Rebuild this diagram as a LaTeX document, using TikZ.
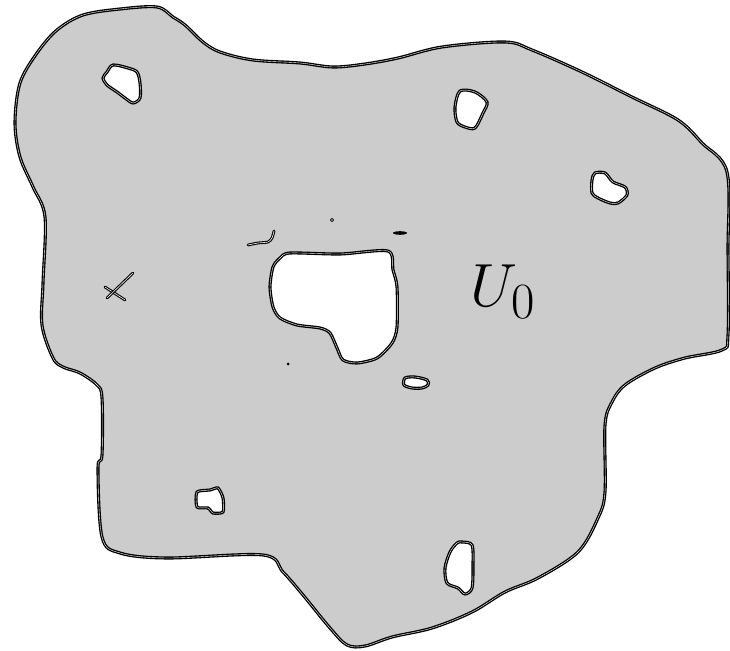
\documentclass[tikz,border=0pt]{standalone}
\usetikzlibrary{calc}
\definecolor{regiongray}{HTML}{CCCCCC}
\tikzset{
  outline/.style={draw=black, line width=1.35pt, double=white, double distance=0.4pt},
  thinmark/.style={draw=black, line width=1.1pt, double=white, double distance=0.6pt, line cap=round},
  region/.style={fill=regiongray, even odd rule},
}
\begin{document}
\begin{tikzpicture}[x=1pt,y=-1pt]
\useasboundingbox (0,0) rectangle (730,650);
% region with holes
\path[region]
  plot[smooth cycle, tension=0.55] coordinates {
    (83,15) (120,9) (157,7) (173,17) (185,25) (203,42) (220,52) (253,60) (300,63) (333,67) (365,64)
    (398,58) (442,47) (505,42) (532,50) (582,72) (632,97) (678,120) (702,143) (727,172)
    (728,250) (728,335) (722,350) (685,358) (655,368) (625,385) (612,402) (605,425) (605,492)
    (598,518) (578,552) (538,578) (505,592) (472,612) (432,628) (392,637) (365,646)
    (347,645) (330,628) (303,595) (283,572) (263,555) (167,558) (120,553) (102,537)
    (98,468) (102,455) (102,398) (97,385) (80,373) (63,367) (53,358) (42,325)
    (43,283) (45,217) (33,187) (20,157) (15,123) (20,83) (37,53) (57,30)}
  plot[smooth cycle, tension=0.5] coordinates {
    (113,65) (128,68) (137,72) (140,83) (140,98) (133,103) (125,98) (117,92) (107,85) (103,78) (107,72)}
  plot[smooth cycle, tension=0.5] coordinates {
    (460,91) (475,92) (487,102) (483,113) (475,128) (465,127) (457,122) (455,107)}
  plot[smooth cycle, tension=0.5] coordinates {
    (595,173) (605,173) (613,182) (625,187) (627,195) (618,203) (610,203) (598,198) (592,193) (592,180)}
  plot[smooth cycle, tension=0.5] coordinates {
    (405,378) (415,377) (427,380) (428,385) (422,388) (412,388) (404,385)}
  plot[smooth cycle, tension=0.5] coordinates {
    (462,542) (472,545) (473,565) (472,588) (465,594) (458,588) (447,583) (445,568) (450,552) (457,543)}
  plot[smooth cycle, tension=0.4] coordinates {
    (197,492) (210,490) (218,488) (223,498) (223,512) (213,513) (208,508) (197,507)}
  plot[smooth cycle, tension=0.45] coordinates {
    (290,253) (340,254) (388,251) (393,270) (397,287) (397,327) (392,343) (377,358) (357,363)
    (343,360) (337,348) (330,333) (320,328) (297,325) (280,318) (273,307) (270,287) (273,267) (280,258)};
% outlines
\draw[outline]
  plot[smooth cycle, tension=0.55] coordinates {
    (83,15) (120,9) (157,7) (173,17) (185,25) (203,42) (220,52) (253,60) (300,63) (333,67) (365,64)
    (398,58) (442,47) (505,42) (532,50) (582,72) (632,97) (678,120) (702,143) (727,172)
    (728,250) (728,335) (722,350) (685,358) (655,368) (625,385) (612,402) (605,425) (605,492)
    (598,518) (578,552) (538,578) (505,592) (472,612) (432,628) (392,637) (365,646)
    (347,645) (330,628) (303,595) (283,572) (263,555) (167,558) (120,553) (102,537)
    (98,468) (102,455) (102,398) (97,385) (80,373) (63,367) (53,358) (42,325)
    (43,283) (45,217) (33,187) (20,157) (15,123) (20,83) (37,53) (57,30)};
\draw[outline]
  plot[smooth cycle, tension=0.5] coordinates {
    (113,65) (128,68) (137,72) (140,83) (140,98) (133,103) (125,98) (117,92) (107,85) (103,78) (107,72)};
\draw[outline]
  plot[smooth cycle, tension=0.5] coordinates {
    (460,91) (475,92) (487,102) (483,113) (475,128) (465,127) (457,122) (455,107)};
\draw[outline]
  plot[smooth cycle, tension=0.5] coordinates {
    (595,173) (605,173) (613,182) (625,187) (627,195) (618,203) (610,203) (598,198) (592,193) (592,180)};
\draw[outline]
  plot[smooth cycle, tension=0.5] coordinates {
    (405,378) (415,377) (427,380) (428,385) (422,388) (412,388) (404,385)};
\draw[outline]
  plot[smooth cycle, tension=0.5] coordinates {
    (462,542) (472,545) (473,565) (472,588) (465,594) (458,588) (447,583) (445,568) (450,552) (457,543)};
\draw[outline]
  plot[smooth cycle, tension=0.4] coordinates {
    (197,492) (210,490) (218,488) (223,498) (223,512) (213,513) (208,508) (197,507)};
\draw[outline]
  plot[smooth cycle, tension=0.45] coordinates {
    (290,253) (340,254) (388,251) (393,270) (397,287) (397,327) (392,343) (377,358) (357,363)
    (343,360) (337,348) (330,333) (320,328) (297,325) (280,318) (273,307) (270,287) (273,267) (280,258)};
% small marks
\draw[thinmark]
  plot[smooth, tension=0.4] coordinates {(248,245) (258,243) (268,242) (272,238) (274,231)};
\draw[thinmark] (105,287) -- (125,300);
\draw[thinmark] (133,273) -- (107,298);
\draw[black, line width=0.6pt] (332,220) circle (1.6);
\fill[black] (288,364) circle (1.5);
\fill[black] (400,233) ellipse (7 and 1.8);
% label
\node[scale=2.45, inner sep=0pt] (u0) at (503,292) {\Huge $U_0$};
\end{tikzpicture}
\end{document}
